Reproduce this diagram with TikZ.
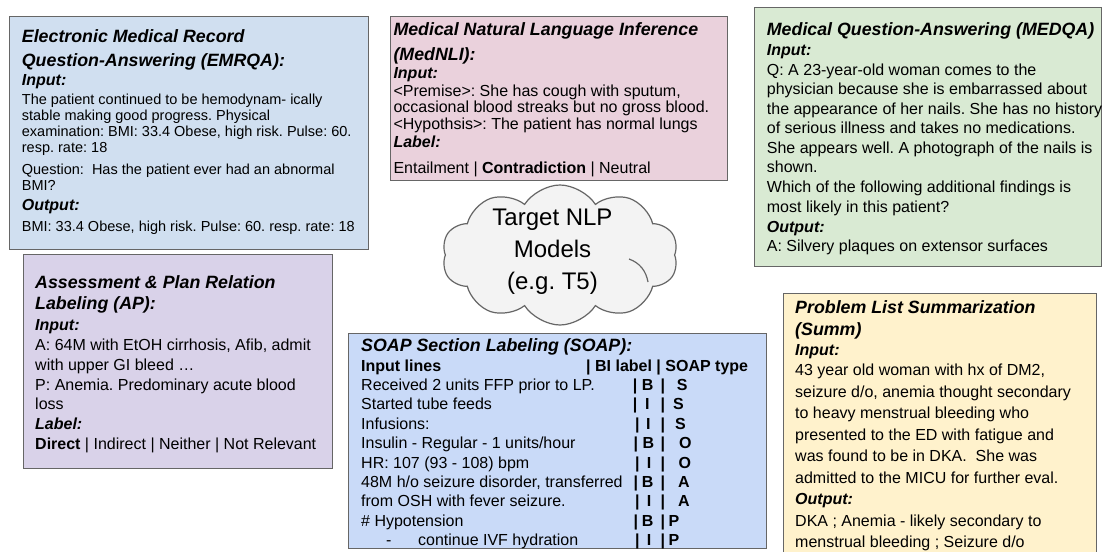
\documentclass[tikz,border=0pt]{standalone}
\usepackage{fontspec}
\setmainfont{Liberation Sans}
\usetikzlibrary{shapes.symbols}
\definecolor{cEmr}{HTML}{D0DFF0}
\definecolor{cNli}{HTML}{EAD1DC}
\definecolor{cQa}{HTML}{D9EAD3}
\definecolor{cAp}{HTML}{D9D2E9}
\definecolor{cSoap}{HTML}{C9DAF8}
\definecolor{cSumm}{HTML}{FFF2CC}
\definecolor{cCloud}{HTML}{F3F3F3}
\definecolor{cBorder}{HTML}{666666}
\frenchspacing
\tikzset{
 panel/.style={draw=cBorder, line width=1.2pt, anchor=north west, inner sep=0pt},
 txt/.style={anchor=base west, inner sep=0pt, text=black},
 ttl/.style={txt, font=\fontsize{17.8}{20}\selectfont\bfseries\itshape},
 lbl/.style={txt, font=\fontsize{16}{18}\selectfont\bfseries\itshape},
 bdy/.style={txt, font=\fontsize{16}{18}\selectfont},
 bdys/.style={txt, font=\fontsize{14.5}{16}\selectfont},
 bdb/.style={txt, font=\fontsize{16}{18}\selectfont\bfseries},
}
\begin{document}
\begin{tikzpicture}[x=1pt,y=-1pt]
\useasboundingbox (0,0) rectangle (1104,552);
\fill[white] (0,0) rectangle (1104,552);
% panels
\node[panel, fill=cEmr, minimum width=359pt, minimum height=233pt] (emrqa) at (9,16) {};
\node[panel, fill=cNli, minimum width=337pt, minimum height=164pt] (mednli) at (390,16) {};
\node[panel, fill=cQa, minimum width=347pt, minimum height=259pt] (medqa) at (754,7) {};
\node[panel, fill=cAp, minimum width=309pt, minimum height=214pt] (ap) at (23,254) {};
\node[panel, fill=cSoap, minimum width=418pt, minimum height=215pt] (soap) at (348,333) {};
\node[panel, fill=cSumm, minimum width=313pt, minimum height=280pt] (summ) at (783,293) {};
% cloud
\node[cloud, cloud puffs=10, cloud puff arc=115, aspect=1.69, draw=cBorder, line width=1.2pt, fill=cCloud, minimum width=236pt, minimum height=140pt, inner sep=0pt] (cloud) at (560,255) {};
\draw[cBorder, line width=1.2pt] (629,259) .. controls (640,263) and (646,271) .. (648,282);
\node[align=center, inner sep=0pt, font=\fontsize{24}{32}\selectfont] (cloudtxt) at (552.5,251.5) {Target NLP\\Models\\(e.g. T5)};
% EMRQA
\node[ttl] (e1) at (21.7,42.7) {Electronic Medical Record};
\node[ttl] (e2) at (21.7,66.5) {Question-Answering (EMRQA):};
\node[lbl] (e3) at (21.7,85) {Input:};
\node[bdys] (e4) at (21.7,104.3) {The patient continued to be hemodynam- ically};
\node[bdys] (e5) at (21.7,120.5) {stable making good progress. Physical};
\node[bdys] (e6) at (21.7,136.7) {examination: BMI: 33.4 Obese, high risk. Pulse: 60.};
\node[bdys] (e7) at (21.7,152.9) {resp. rate: 18};
\node[bdys] (e8) at (21.7,174) {Question:\ \ Has the patient ever had an abnormal};
\node[bdys] (e9) at (21.7,190) {BMI?};
\node[lbl] (e10) at (21.7,210.7) {Output:};
\node[bdys] (e11) at (21.7,231.7) {BMI: 33.4 Obese, high risk. Pulse: 60. resp. rate: 18};
% MedNLI
\node[ttl] (n1) at (393.3,35.4) {Medical Natural Language Inference};
\node[ttl] (n2) at (393.3,60) {(MedNLI):};
\node[lbl] (n3) at (393.3,78) {Input:};
\node[bdy] (n4) at (393.3,96) {<Premise>: She has cough with sputum,};
\node[bdy] (n5) at (393.3,112.5) {occasional blood streaks but no gross blood.};
\node[bdy] (n6) at (393.3,129) {<Hypothsis>: The patient has normal lungs};
\node[lbl] (n7) at (393.3,147) {Label:};
\node[bdy] (n8) at (393.3,173.5) {Entailment | \textbf{Contradiction} | Neutral};
% MEDQA
\node[ttl] (q1) at (766.7,35.7) {Medical Question-Answering (MEDQA)};
\node[lbl] (q2) at (766.7,55.3) {Input:};
\node[bdy] (q3) at (766.7,75.3) {Q: A 23-year-old woman comes to the};
\node[bdy] (q4) at (766.7,94.8) {physician because she is embarrassed about};
\node[bdy] (q5) at (766.7,114.3) {the appearance of her nails. She has no history};
\node[bdy] (q6) at (766.7,133.8) {of serious illness and takes no medications.};
\node[bdy] (q7) at (766.7,153.1) {She appears well. A photograph of the nails is};
\node[bdy] (q8) at (766.7,172.5) {shown.};
\node[bdy] (q9) at (766.7,192) {Which of the following additional findings is};
\node[bdy] (q10) at (766.7,212) {most likely in this patient?};
\node[lbl] (q11) at (766.7,232) {Output:};
\node[bdy] (q12) at (766.7,251.3) {A: Silvery plaques on extensor surfaces};
% AP
\node[ttl] (a1) at (35,288.5) {Assessment \& Plan Relation};
\node[ttl] (a2) at (35,309.5) {Labeling (AP):};
\node[lbl] (a3) at (35,330.5) {Input:};
\node[bdy] (a4) at (35,350.7) {A: 64M with EtOH cirrhosis, Afib, admit};
\node[bdy] (a5) at (35,370.7) {with upper GI bleed …};
\node[bdy] (a6) at (35,390.7) {P: Anemia. Predominary acute blood};
\node[bdy] (a7) at (35,409.7) {loss};
\node[lbl] (a8) at (35,429) {Label:};
\node[bdy] (a9) at (35,449) {\textbf{Direct} | Indirect | Neither | Not Relevant};
% SOAP
\node[ttl] (s1) at (361,351.2) {SOAP Section Labeling (SOAP):};
\node[bdb] (s2) at (361,371.3) {Input lines};
\node[bdb] (s3) at (586,371.3) {| BI label | SOAP type};
\foreach \y/\t [count=\i] in {390.5/{Received 2 units FFP prior to LP.}, 409.9/{Started tube feeds}, 429.3/{Infusions:}, 448.7/{Insulin - Regular - 1 units/hour}, 468.1/{HR: 107 (93 - 108) bpm}, 487.5/{48M h/o seizure disorder, transferred}, 506.9/{from OSH with fever seizure.}, 526.3/{\# Hypotension}}
  \node[bdy] (sl\i) at (361,\y) {\t};
\node[bdy] (sl9a) at (386,545.5) {-};
\node[bdy] (sl9b) at (418,545.5) {continue IVF hydration};
\foreach \y/\xa/\xl/\la/\xr/\lr [count=\i] in {390.5/632.7/641.7/B/676.7/S, 409.9/632.7/645/I/673/S, 429.3/635/646/I/675/S, 448.7/633.5/642.3/B/679/O, 468.1/635/646.7/I/678.3/O, 487.5/633.5/641.7/B/678/A, 506.9/635/646.7/I/678/A, 526.3/633.5/641.7/B/668.3/P, 545.5/635/646.7/I/668.3/P}
{
  \node[bdb] (sb\i) at (\xa,\y) {|};
  \node[bdb] (sc\i) at (\xl,\y) {\la};
  \node[bdb] (sd\i) at (660.5,\y) {|};
  \node[bdb] (se\i) at (\xr,\y) {\lr};
}
% Summ
\node[ttl] (m1) at (795,313) {Problem List Summarization};
\node[ttl] (m2) at (795,335.3) {(Summ)};
\node[lbl] (m3) at (795,355.3) {Input:};
\node[bdy] (m4) at (795,375.5) {43 year old woman with hx of DM2,};
\node[bdy] (m5) at (795,397) {seizure d/o, anemia thought secondary};
\node[bdy] (m6) at (795,418.5) {to heavy menstrual bleeding who};
\node[bdy] (m7) at (795,440) {presented to the ED with fatigue and};
\node[bdy] (m8) at (795,461.5) {was found to be in DKA.\ \ She was};
\node[bdy] (m9) at (795,483) {admitted to the MICU for further eval.};
\node[lbl] (m10) at (795,504.5) {Output:};
\node[bdy] (m11) at (795,526) {DKA ; Anemia - likely secondary to};
\node[bdy] (m12) at (795,547.5) {menstrual bleeding ; Seizure d/o};
\end{tikzpicture}
\end{document}
